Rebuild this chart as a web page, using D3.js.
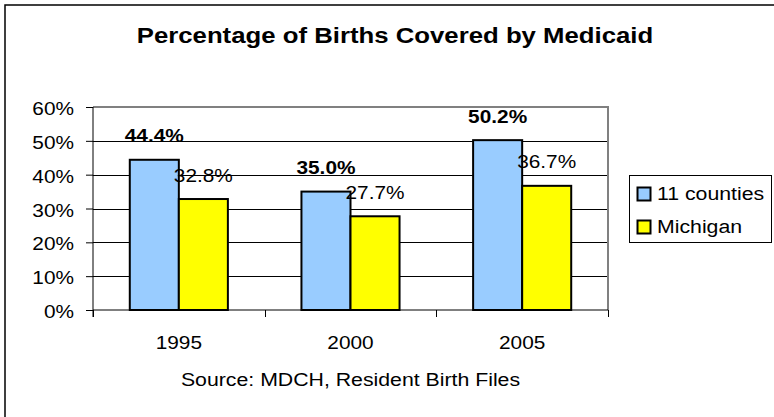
<!DOCTYPE html>
<html><head><meta charset="utf-8">
<script src="https://cdn.jsdelivr.net/npm/d3@7"></script>
<style>
html,body{margin:0;padding:0;background:#fff;}
svg{display:block;}
text{font-family:"Liberation Sans",Arial,sans-serif;fill:#000;}
</style></head>
<body>
<script>
const title = "Percentage of Births Covered by Medicaid";
const source = "Source: MDCH, Resident Birth Files";
const categories = ["1995", "2000", "2005"];
const seriesNames = ["11 counties", "Michigan"];
const counties = [44.4, 35.0, 50.2];
const michigan = [32.8, 27.7, 36.7];
const yTicks = [0, 10, 20, 30, 40, 50, 60];
const colors = ["#99CCFF", "#FFFF00"];

const W = 774, H = 417;
const SX = 1.12;
const svg = d3.select("body").append("svg").attr("width", W).attr("height", H);

// outer border
svg.append("rect").attr("x", 5).attr("y", 5).attr("width", W + 10).attr("height", H + 10)
  .attr("fill", "#fff").attr("stroke", "#000").attr("stroke-width", 1.5);

function txt(g, x, y, s, size, anchor, weight) {
  return g.append("text")
    .attr("transform", `translate(${x},${y}) scale(${SX},1)`)
    .attr("text-anchor", anchor || "middle")
    .attr("font-size", size)
    .attr("font-weight", weight || "normal")
    .text(s);
}

const plot = {left: 93, right: 608, top: 107, bottom: 310};
const x = d3.scaleBand().domain(categories).range([plot.left, plot.right]).paddingInner(0).paddingOuter(0);
const barW = x.bandwidth() / 3.5;
const xs = d3.scaleBand().domain(seriesNames).range([0.75 * barW, 2.75 * barW]);
const y = d3.scaleLinear().domain([0, 60]).range([plot.bottom, plot.top]);

// title
txt(svg, 395, 43, title, 23, "middle", "bold");

// gridlines
svg.append("g").selectAll("line").data(yTicks.filter(d => d > 0 && d < 60)).join("line")
  .attr("x1", plot.left).attr("x2", plot.right)
  .attr("y1", d => Math.round(y(d)) + 0.5).attr("y2", d => Math.round(y(d)) + 0.5)
  .attr("stroke", "#000").attr("stroke-width", 1);

// plot border top/right (gray)
svg.append("path")
  .attr("d", `M${plot.left},${plot.top} H${plot.right} V${plot.bottom}`)
  .attr("fill", "none").attr("stroke", "#808080").attr("stroke-width", 2);

// y axis
const yAxis = d3.axisLeft(y).tickValues(yTicks).tickSize(7).tickFormat(d => "");
const ya = svg.append("g").attr("transform", `translate(${plot.left},0)`).call(yAxis);
ya.selectAll("path, line").attr("stroke", "#000");
ya.select(".domain").attr("d", `M0,${plot.top}V${plot.bottom + 7}`);
yTicks.forEach(t => txt(svg, 74, y(t) + 8, t + "%", 18.6, "end"));

// x axis
const xAxis = d3.axisBottom(x).tickSize(0).tickFormat("");
const xa = svg.append("g").attr("transform", `translate(0,${plot.bottom})`).call(xAxis);
xa.select(".domain").attr("d", `M${plot.left},0H${plot.right}`).attr("stroke", "#000");
// ticks between categories
const bounds = [plot.left].concat(categories.map(c => x(c) + x.bandwidth()));
svg.append("g").selectAll("line").data(bounds).join("line")
  .attr("x1", d => Math.round(d) + 0.5).attr("x2", d => Math.round(d) + 0.5)
  .attr("y1", plot.bottom).attr("y2", plot.bottom + 7).attr("stroke", "#000");
categories.forEach(c => txt(svg, x(c) + x.bandwidth() / 2, 349, c, 18.6, "middle"));

// bars
const data = [];
categories.forEach((c, i) => {
  data.push({cat: c, s: seriesNames[0], v: counties[i], k: 0});
  data.push({cat: c, s: seriesNames[1], v: michigan[i], k: 1});
});
svg.append("g").selectAll("rect").data(data).join("rect")
  .attr("x", d => x(d.cat) + xs(d.s))
  .attr("y", d => y(d.v))
  .attr("width", barW)
  .attr("height", d => y(0) - y(d.v))
  .attr("fill", d => colors[d.k])
  .attr("stroke", "#000").attr("stroke-width", 2);

// labels
data.forEach(d => {
  txt(svg, x(d.cat) + xs(d.s) + barW / 2, y(d.v) - 17.5, d.v.toFixed(1) + "%", 18.6, "middle", d.k === 0 ? "bold" : "normal");
});

// source
txt(svg, (plot.left + plot.right) / 2, 386, source, 19, "middle");

// legend
const lg = svg.append("g");
lg.append("rect").attr("x", 629.5).attr("y", 175.5).attr("width", 142).attr("height", 67)
  .attr("fill", "#fff").attr("stroke", "#000").attr("stroke-width", 1);
seriesNames.forEach((s, i) => {
  lg.append("rect").attr("x", 637.5).attr("y", 187.5 + i * 33).attr("width", 13).attr("height", 13)
    .attr("fill", colors[i]).attr("stroke", "#000").attr("stroke-width", 2);
  txt(lg, 657, 200 + i * 33, s, 19, "start");
});
</script>
</body></html>
